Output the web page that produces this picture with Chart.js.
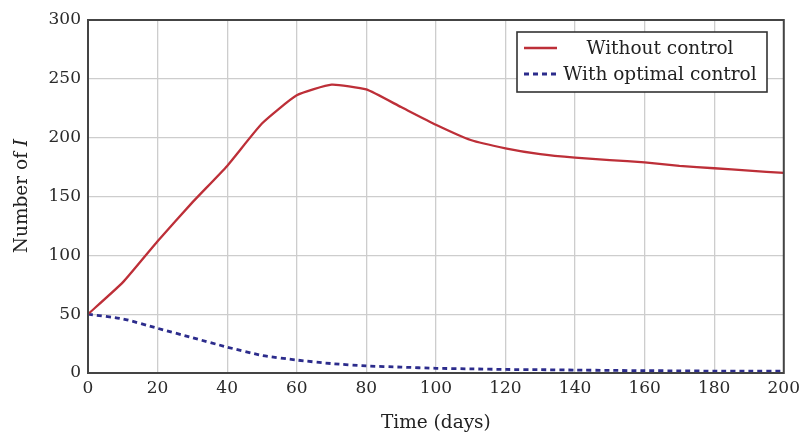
<!DOCTYPE html>
<html>
<head>
<meta charset="utf-8">
<script src="https://cdn.jsdelivr.net/npm/chart.js@4.4.0/dist/chart.umd.min.js"></script>
<style>
html,body{margin:0;padding:0;background:#fff;}
#wrap{width:805px;height:434px;position:relative;}
</style>
</head>
<body>
<div id="wrap"><canvas id="c" width="805" height="434"></canvas></div>
<script>
const days = [0,10,20,30,40,50,60,70,80,90,100,110,120,130,140,150,160,170,180,190,200];
const withoutControl = [50,77,112,145,176,212,236,245,241,226,211,198,191,186,183,181,179,176,174,172,170];
const withOptimalControl = [50,46,38,30,22,15,11,8,6,5,4,3.5,3,2.8,2.5,2.2,2,1.8,1.6,1.5,1.5];
const xTicks = [0,20,40,60,80,100,120,140,160,180,200];
const yTicks = [0,50,100,150,200,250,300];
const seriesNames = ['Without control','With optimal control'];
const xTitle = 'Time (days)';
const yTitleMain = 'Number of ';
const yTitleVar = 'I';

const WFONT = '"DejaVu Serif", "Liberation Serif", serif';

const framePlugin = {
  id: 'frameAndLegend',
  afterDatasetsDraw(chart) {
    const ctx = chart.ctx;
    const a = chart.chartArea;
    ctx.save();
    // frame
    ctx.strokeStyle = '#444';
    ctx.lineWidth = 2;
    ctx.strokeRect(a.left, a.top, a.right - a.left, a.bottom - a.top);
    // legend box
    const lx = 517, ly = 32, lw = 250, lh = 60;
    ctx.fillStyle = '#fff';
    ctx.fillRect(lx, ly, lw, lh);
    ctx.strokeStyle = '#333';
    ctx.lineWidth = 1.6;
    ctx.strokeRect(lx, ly, lw, lh);
    const ds = chart.data.datasets;
    const rows = [ly + 16, ly + 42];
    ds.forEach((d, i) => {
      ctx.beginPath();
      ctx.strokeStyle = d.borderColor;
      ctx.lineWidth = d.borderWidth;
      ctx.setLineDash(d.borderDash || []);
      ctx.moveTo(lx + 7, rows[i]);
      ctx.lineTo(lx + 40, rows[i]);
      ctx.stroke();
      ctx.setLineDash([]);
      ctx.fillStyle = '#222';
      ctx.font = '18.5px ' + WFONT;
      ctx.textAlign = 'center';
      ctx.textBaseline = 'middle';
      ctx.fillText(d.label, 660, rows[i] + 1);
    });
    // y axis title with italic variable
    ctx.translate(22, 196);
    ctx.rotate(-Math.PI / 2);
    ctx.font = '18.5px ' + WFONT;
    const w1 = ctx.measureText(yTitleMain).width;
    ctx.font = 'italic 18.5px ' + WFONT;
    const w2 = ctx.measureText(yTitleVar).width;
    const start = -(w1 + w2) / 2;
    ctx.textAlign = 'left';
    ctx.textBaseline = 'middle';
    ctx.fillStyle = '#222';
    ctx.font = '18.5px ' + WFONT;
    ctx.fillText(yTitleMain, start, 0);
    ctx.font = 'italic 18.5px ' + WFONT;
    ctx.fillText(yTitleVar, start + w1, 0);
    ctx.restore();
  }
};

new Chart(document.getElementById('c'), {
  type: 'line',
  data: {
    labels: days,
    datasets: [
      {
        label: seriesNames[0],
        data: days.map((d, i) => ({x: d, y: withoutControl[i]})),
        borderColor: '#bd2f38',
        borderWidth: 2.3,
        pointRadius: 0,
        tension: 0.15,
        fill: false
      },
      {
        label: seriesNames[1],
        data: days.map((d, i) => ({x: d, y: withOptimalControl[i]})),
        borderColor: '#2c2c8c',
        borderWidth: 2.8,
        borderDash: [5, 4],
        pointRadius: 0,
        tension: 0.2,
        fill: false
      }
    ]
  },
  options: {
    responsive: false,
    animation: false,
    devicePixelRatio: 1,
    layout: { padding: { left: 0, right: 21, top: 20, bottom: 0 } },
    plugins: {
      legend: { display: false },
      tooltip: { enabled: false }
    },
    scales: {
      x: {
        type: 'linear',
        min: 0, max: 200,
        afterBuildTicks(scale) { scale.ticks = xTicks.map(v => ({value: v})); },
        afterFit(scale) { scale.height = 434 - 373; },
        grid: { color: '#cdcdcd', lineWidth: 1.3, drawTicks: false },
        border: { display: false },
        ticks: { font: { family: WFONT, size: 17 }, color: '#2a2a2a', padding: 5, maxRotation: 0 },
        title: { display: true, text: xTitle, font: { family: WFONT, size: 18.5 }, color: '#222', padding: { top: 0, bottom: 0 } }
      },
      y: {
        min: 0, max: 300,
        afterBuildTicks(scale) { scale.ticks = yTicks.map(v => ({value: v})); },
        afterFit(scale) { scale.width = 88; },
        grid: { color: '#cdcdcd', lineWidth: 1.3, drawTicks: false },
        border: { display: false },
        ticks: { font: { family: WFONT, size: 17 }, color: '#2a2a2a', padding: 7 }
      }
    }
  },
  plugins: [framePlugin]
});
</script>
</body>
</html>
